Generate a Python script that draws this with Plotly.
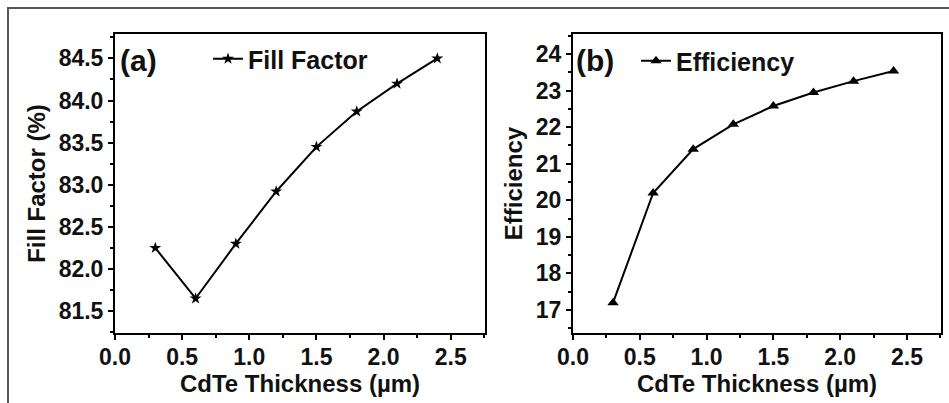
import plotly.graph_objects as go

thickness = [0.3, 0.6, 0.9, 1.2, 1.5, 1.8, 2.1, 2.4]
fill_factor = [82.25, 81.65, 82.30, 82.92, 83.45, 83.87, 84.20, 84.50]
efficiency = [17.2, 20.2, 21.4, 22.08, 22.58, 22.95, 23.26, 23.54]

x_ticks = [0.0, 0.5, 1.0, 1.5, 2.0, 2.5]
ff_ticks = [81.5, 82.0, 82.5, 83.0, 83.5, 84.0, 84.5]
eff_ticks = [17, 18, 19, 20, 21, 22, 23, 24]

W, H = 949, 403
FONT = "Liberation Sans, Arial, sans-serif"

def px_x(p):
    return p / W

def px_y(p):
    return 1 - p / H

fig = go.Figure()

fig.add_trace(go.Scatter(
    x=thickness, y=fill_factor, mode="lines+markers", name="Fill Factor",
    line=dict(color="black", width=2),
    marker=dict(symbol="star", size=9, color="black"),
    xaxis="x", yaxis="y", legend="legend",
))
fig.add_trace(go.Scatter(
    x=thickness, y=efficiency, mode="lines+markers", name="Efficiency",
    line=dict(color="black", width=2),
    marker=dict(symbol="triangle-up", size=10, color="black"),
    xaxis="x2", yaxis="y2", legend="legend2",
))

tickfont = dict(family=FONT, size=23, color="#111", weight="bold")
titlefont = dict(family=FONT, size=24, color="#111", weight="bold")
legfont = dict(family=FONT, size=25, color="#111", weight="bold")

def xaxis_cfg(domain, anchor):
    return dict(
        domain=domain, anchor=anchor, range=[0, 2.755], automargin=False,
        tickvals=x_ticks, ticktext=[f"{v:.1f}" for v in x_ticks],
        ticks="outside", ticklen=5, tickwidth=2, tickcolor="black",
        ticklabelstandoff=-3,
        minor=dict(ticks="outside", ticklen=3, tickwidth=2, tickcolor="black", dtick=0.25, tick0=0),
        showline=True, linewidth=2, linecolor="black", mirror=True,
        showgrid=False, zeroline=False, tickfont=tickfont,
        title=dict(text="CdTe Thickness (µm)", font=titlefont, standoff=1),
    )

ydom = [px_y(333), px_y(34)]
fig.update_layout(
    template="none",
    width=W, height=H,
    margin=dict(l=0, r=0, t=0, b=0, pad=0),
    paper_bgcolor="white", plot_bgcolor="white",
    xaxis=xaxis_cfg([px_x(115), px_x(485)], "y"),
    xaxis2=xaxis_cfg([px_x(573), px_x(941)], "y2"),
    yaxis=dict(
        domain=ydom, anchor="x", range=[81.24, 84.79], automargin=False,
        tickvals=ff_ticks, ticktext=[f"{v:.1f}" for v in ff_ticks],
        ticks="outside", ticklen=5, tickwidth=2, tickcolor="black",
        minor=dict(ticks="outside", ticklen=3, tickwidth=2, tickcolor="black", dtick=0.25, tick0=81.5),
        showline=True, linewidth=2, linecolor="black", mirror=True,
        showgrid=False, zeroline=False, tickfont=tickfont,
        title=dict(text="Fill Factor (%)", font=titlefont, standoff=6),
    ),
    yaxis2=dict(
        domain=ydom, anchor="x2", range=[16.37, 24.55], automargin=False,
        tickvals=eff_ticks, ticktext=[str(v) for v in eff_ticks],
        ticks="outside", ticklen=5, tickwidth=2, tickcolor="black",
        minor=dict(ticks="outside", ticklen=3, tickwidth=2, tickcolor="black", dtick=0.5, tick0=17),
        showline=True, linewidth=2, linecolor="black", mirror=True,
        showgrid=False, zeroline=False, tickfont=tickfont,
        title=dict(text="Efficiency", font=titlefont, standoff=6),
    ),
    legend=dict(
        x=px_x(208), y=px_y(59), xanchor="left", yanchor="middle",
        bgcolor="rgba(0,0,0,0)", borderwidth=0, font=legfont,
    ),
    legend2=dict(
        x=px_x(636), y=px_y(61), xanchor="left", yanchor="middle",
        bgcolor="rgba(0,0,0,0)", borderwidth=0, font=legfont,
    ),
    showlegend=True,
    annotations=[
        dict(text="(a)", x=px_x(118), y=px_y(61), xref="paper", yref="paper",
             xanchor="left", yanchor="middle", showarrow=False,
             font=dict(family=FONT, size=30, color="#111", weight="bold")),
        dict(text="(b)", x=px_x(574), y=px_y(61), xref="paper", yref="paper",
             xanchor="left", yanchor="middle", showarrow=False,
             font=dict(family=FONT, size=30, color="#111", weight="bold")),
    ],
    shapes=[
        dict(type="rect", xref="paper", yref="paper",
             x0=px_x(8), x1=1.05, y0=-0.05, y1=px_y(8),
             line=dict(color="#555", width=2), fillcolor="rgba(0,0,0,0)", layer="below"),
    ],
)

fig.write_html("out.html", config={"displayModeBar": False},
               post_script="document.body.style.margin='0';document.body.style.overflow='hidden';")
